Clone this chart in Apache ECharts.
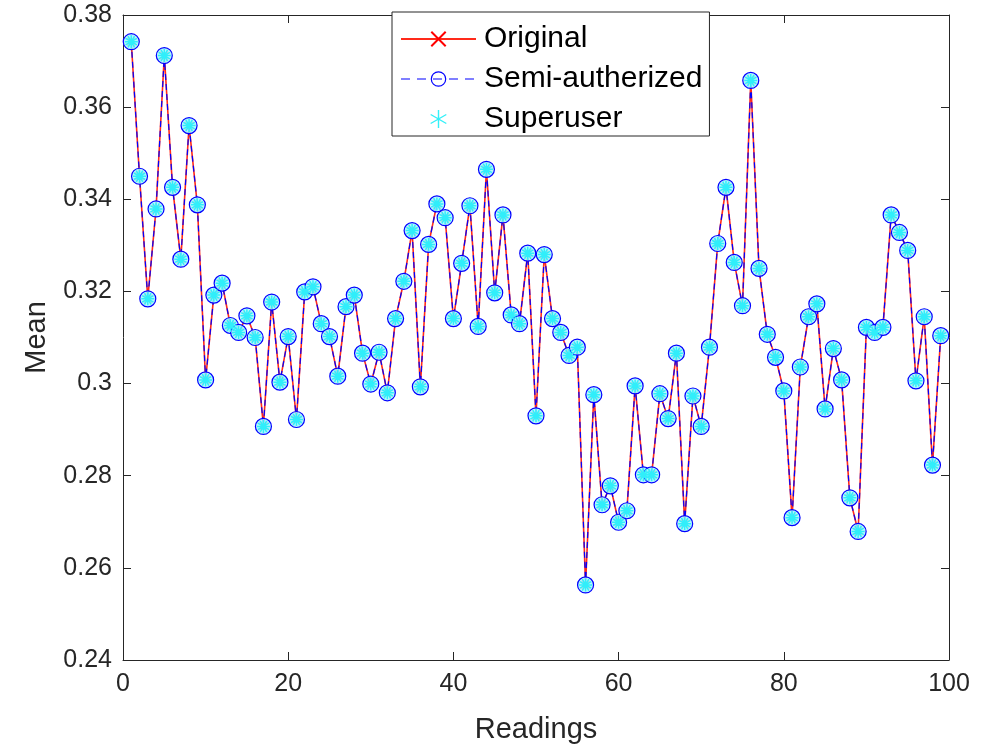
<!DOCTYPE html>
<html>
<head>
<meta charset="utf-8">
<script src="https://cdn.jsdelivr.net/npm/echarts@6/dist/echarts.min.js"></script>
<style>
html,body{margin:0;padding:0;background:#fff;}
#chart{width:992px;height:749px;}
</style>
</head>
<body>
<div id="chart"></div>
<script>
const readings = [1,2,3,4,5,6,7,8,9,10,11,12,13,14,15,16,17,18,19,20,21,22,23,24,25,26,27,28,29,30,31,32,33,34,35,36,37,38,39,40,41,42,43,44,45,46,47,48,49,50,51,52,53,54,55,56,57,58,59,60,61,62,63,64,65,66,67,68,69,70,71,72,73,74,75,76,77,78,79,80,81,82,83,84,85,86,87,88,89,90,91,92,93,94,95,96,97,98,99];
const originalMean = [0.3742,0.3450,0.3184,0.3379,0.3712,0.3426,0.3270,0.3560,0.3388,0.3008,
  0.3192,0.3218,0.3126,0.3111,0.3147,0.3100,0.2907,0.3177,0.3003,0.3102,
  0.2922,0.3199,0.3210,0.3130,0.3102,0.3016,0.3167,0.3192,0.3066,0.2999,
  0.3068,0.2980,0.3141,0.3222,0.3332,0.2993,0.3302,0.3390,0.3360,0.3141,
  0.3261,0.3386,0.3124,0.3465,0.3197,0.3366,0.3149,0.3130,0.3283,0.2930,
  0.3280,0.3141,0.3111,0.3061,0.3079,0.2563,0.2976,0.2737,0.2778,0.2699,
  0.2724,0.2995,0.2802,0.2802,0.2978,0.2924,0.3066,0.2696,0.2973,0.2907,
  0.3079,0.3304,0.3426,0.3263,0.3169,0.3658,0.3250,0.3107,0.3057,0.2984,
  0.2709,0.3036,0.3145,0.3173,0.2945,0.3076,0.3008,0.2752,0.2679,0.3122,
  0.3111,0.3122,0.3366,0.3328,0.3289,0.3006,0.3145,0.2823,0.3104];
const semiMean = originalMean.slice();
const superMean = originalMean.slice();
const seriesNames = ['Original','Semi-autherized','Superuser'];
const xTicks = [0,20,40,60,80,100];
const yTicks = [0.24,0.26,0.28,0.30,0.32,0.34,0.36,0.38];

function pairs(xs, ys){ return xs.map((x,i)=>[x, ys[i]]); }

const FONT = '"Liberation Sans", Arial, Helvetica, sans-serif';
const AX = '#262626';
const xSym = 'path://M-1,-1L1,1M-1,1L1,-1';
const starSym = 'path://M0,-1L0,1M-0.87,-0.5L0.87,0.5M-0.87,0.5L0.87,-0.5M-0.5,-0.87L0.5,0.87M-0.5,0.87L0.5,-0.87M-1,0L1,0';
const legendStar = 'path://M0,-1L0,1M-0.87,-0.5L0.87,0.5M-0.87,0.5L0.87,-0.5';

const chart = echarts.init(document.getElementById('chart'), null, {renderer:'canvas'});
const baseX = {
  type:'value', min:xTicks[0], max:xTicks[xTicks.length-1], interval:20,
  axisLine:{show:true, onZero:false, lineStyle:{color:AX, width:1}},
  axisTick:{show:true, inside:true, length:8, lineStyle:{color:AX}},
  splitLine:{show:false}
};
const baseY = {
  type:'value', min:yTicks[0], max:yTicks[yTicks.length-1], interval:0.02,
  axisLine:{show:true, onZero:false, lineStyle:{color:AX, width:1}},
  axisTick:{show:true, inside:true, length:8, lineStyle:{color:AX}},
  splitLine:{show:false}
};
chart.setOption({
  animation:false,
  backgroundColor:'#fff',
  grid:{left:123, right:43, top:15, bottom:82, containLabel:false},
  xAxis:[
    Object.assign({}, baseX, {position:'bottom',
      axisLabel:{show:true, color:AX, fontSize:25, fontFamily:FONT, margin:12},
      name:'Readings', nameLocation:'middle', nameGap:55,
      nameTextStyle:{color:AX, fontSize:29, fontFamily:FONT}}),
    Object.assign({}, baseX, {position:'top', axisLabel:{show:false}})
  ],
  yAxis:[
    Object.assign({}, baseY, {position:'left',
      axisLabel:{show:true, color:AX, fontSize:25, fontFamily:FONT, margin:11,
        formatter:v=>String(Math.round(v*100)/100)},
      name:'Mean', nameLocation:'middle', nameGap:72,
      nameTextStyle:{color:AX, fontSize:29, fontFamily:FONT}}),
    Object.assign({}, baseY, {position:'right', axisLabel:{show:false}})
  ],
  legend:{
    left:392, top:12, orient:'vertical',
    backgroundColor:'#fff', borderColor:AX, borderWidth:1,
    padding:[12,7,2,8],
    itemWidth:75, itemHeight:18, itemGap:10,
    textStyle:{color:'#000', fontSize:30, fontFamily:FONT, lineHeight:30, padding:[0,0,0,3]},
    data:[
      {name:seriesNames[0]},
      {name:seriesNames[1], itemStyle:{color:'rgba(0,0,255,0)', borderColor:'#0000ff', borderWidth:1.2},
        lineStyle:{color:'#0000ff', width:1.2, type:[9,7]}},
      {name:seriesNames[2], icon:legendStar, itemStyle:{color:'#00ffff', borderColor:'#33f0f8', borderWidth:1.4}}
    ],
    selectedMode:false
  },
  series:[
    {
      name:seriesNames[0], type:'line', data:pairs(readings, originalMean),
      xAxisIndex:0, yAxisIndex:0,
      showAllSymbol:true, symbol:xSym, symbolSize:8,
      itemStyle:{color:'#ff0000', borderColor:'#ff0000', borderWidth:1.2},
      lineStyle:{color:'#ff2a1a', width:1.6},
      emphasis:{disabled:true}, silent:true, z:2
    },
    {
      name:seriesNames[1], type:'line', data:pairs(readings, semiMean),
      xAxisIndex:0, yAxisIndex:0,
      showAllSymbol:true, symbol:'circle', symbolSize:16,
      itemStyle:{color:'rgba(170,245,252,0.85)', borderColor:'#0000ff', borderWidth:1.2},
      lineStyle:{color:'#0000ff', width:1.2, type:[6,4]},
      emphasis:{disabled:true}, silent:true, z:3
    },
    {
      name:seriesNames[2], type:'line', data:pairs(readings, superMean),
      xAxisIndex:0, yAxisIndex:0,
      showAllSymbol:true, symbol:starSym, symbolSize:13,
      itemStyle:{color:'#00ffff', borderColor:'#30eefa', borderWidth:1.5},
      lineStyle:{width:0, opacity:0},
      emphasis:{disabled:true}, silent:true, z:4
    }
  ]
});
</script>
</body>
</html>
